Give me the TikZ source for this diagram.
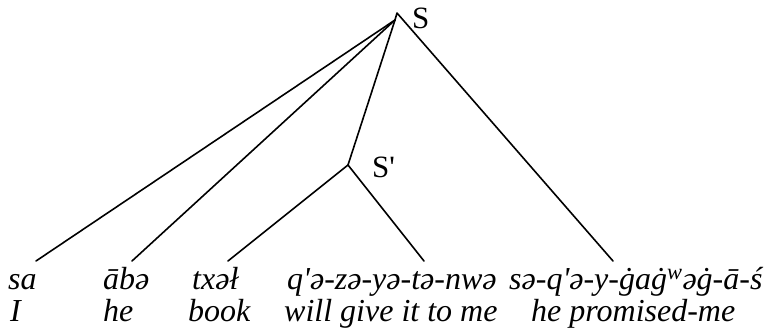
\documentclass[tikz,border=0pt]{standalone}
\usepackage{fontspec}
\setmainfont{Liberation Serif}
\begin{document}
\begin{tikzpicture}[x=1pt,y=-1pt,
  word/.style={anchor=base west, inner sep=0pt, font=\fontsize{32}{36}\selectfont\itshape},
  lbl/.style={anchor=base west, inner sep=0pt, font=\fontsize{31}{36}\selectfont},
  branch/.style={line width=1.6pt, line cap=round, line join=round}]
\useasboundingbox (0,0) rectangle (764,330);
% labels
\node[lbl] (S) at (412,28) {S};
\node[lbl] (Sp) at (372,177) {S\textquotesingle};
% tree points
\coordinate (apex) at (397,13);
\coordinate (junc) at (395,20);
\coordinate (sv) at (348,165);
\coordinate (e1) at (36,261);
\coordinate (e2) at (132,261);
\coordinate (e3) at (228,261);
\coordinate (e4) at (424,261);
\coordinate (e5) at (613,261);
% words
\node[word] (w1) at (8,289) {sa};
\node[word] (w2) at (103,289) {ābə};
\node[word] (w3) at (192,289) {txəł};
\node[word] (w4) at (287,289) {q\textquotesingle ə-zə-yə-tə-nwə};
\node[word] (w5) at (509,289) {sə-q\textquotesingle ə-y-ġaġ\textsuperscript{w}əġ-ā-ś};
% glosses
\node[word] (g1) at (10,321) {I};
\node[word] (g2) at (103,321) {he};
\node[word] (g3) at (188,321) {book};
\node[word] (g4) at (284,321) {will give it to me};
\node[word] (g5) at (531,321) {he promised-me};
% branches
\draw[branch] (e1) -- (junc);
\draw[branch] (e2) -- (junc);
\draw[branch] (sv) -- (junc);
\draw[branch] (junc) -- (apex) -- (e5);
\draw[branch] (e3) -- (sv) -- (e4);
\end{tikzpicture}
\end{document}
